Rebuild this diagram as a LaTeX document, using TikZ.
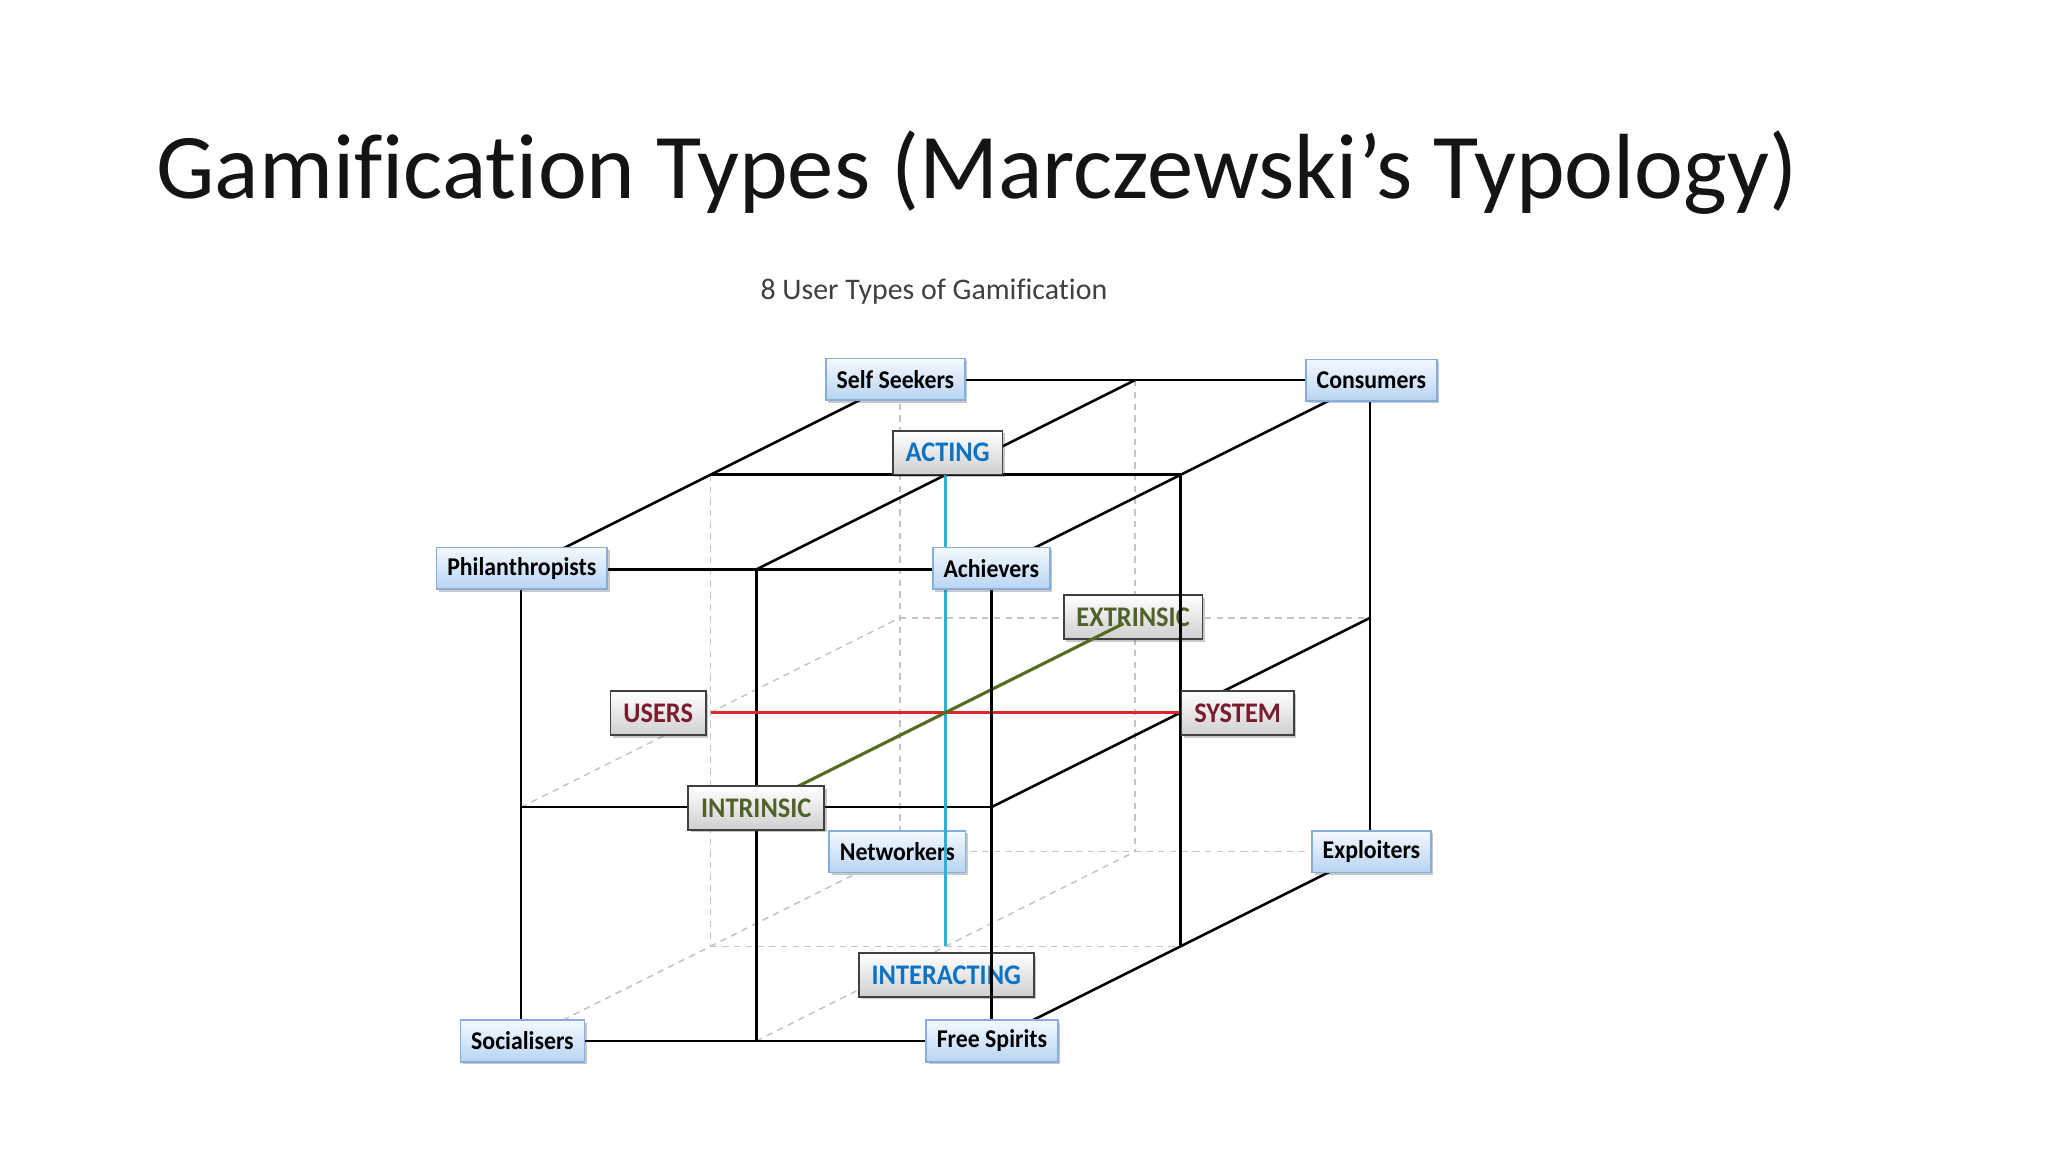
\documentclass[tikz,border=0pt]{standalone}
\usepackage{fontspec}
\setmainfont[Ligatures={NoCommon}]{Carlito}
\newfontfamily\boxfont[FakeStretch=0.93,Ligatures={NoCommon}]{Carlito}
\usetikzlibrary{shadows}
\definecolor{typetop}{HTML}{F4F9FF}
\definecolor{typebot}{HTML}{B8D4F2}
\definecolor{typeborder}{HTML}{86AEDD}
\definecolor{axisbot}{HTML}{CFCFCF}
\definecolor{axisborder}{HTML}{404040}
\definecolor{axblue}{HTML}{0B72C4}
\definecolor{axgreen}{HTML}{4F6228}
\definecolor{axred}{HTML}{7B1B2E}
\definecolor{redline}{HTML}{E0262A}
\definecolor{cyanline}{HTML}{2BB3D3}
\definecolor{greenline}{HTML}{556B1F}
\definecolor{hidgray}{HTML}{C4C4C4}
\definecolor{subgray}{HTML}{404040}
\definecolor{titlecol}{HTML}{141414}
\tikzset{
  boxshadow/.style={drop shadow={shadow xshift=1.2pt, shadow yshift=-1.2pt, opacity=0.3, fill=black!70}},
  typebox/.style={draw=typeborder, line width=0.7pt, top color=typetop, bottom color=typebot,
    minimum height=19.5pt, inner xsep=5pt, inner ysep=2pt, text=black,
    font=\boxfont\bfseries\fontsize{12}{13}\selectfont, boxshadow},
  axisbox/.style={draw=axisborder, line width=0.8pt, top color=white, bottom color=axisbot,
    minimum height=20.5pt, inner xsep=6pt, inner ysep=2pt,
    font=\boxfont\bfseries\fontsize{13.3}{14}\selectfont, boxshadow},
  cubeline/.style={draw=black, line width=1.2pt},
  hiddenline/.style={draw=hidgray, line width=0.7pt, dash pattern=on 3pt off 2.5pt},
}
\begin{document}
\begin{tikzpicture}[x=0.6122pt,y=-0.6122pt]
\useasboundingbox (0,0) rectangle (1568,882);
\fill[white] (0,0) rectangle (1568,882);

\node[anchor=base west, inner sep=0, text=titlecol, font=\fontsize{43.4}{50}\selectfont] (title) at (119.5,151.8)
  {Gamification Types (Marczewski’s Typology)};
\node[anchor=base, inner sep=0, text=subgray, font=\fontsize{14}{16}\selectfont] (subtitle) at (715,229)
  {8 User Types of Gamification};

% lattice of the cube: i = width, j = height (0 top), k = depth
\foreach \i in {0,1,2}{
  \foreach \j/\yy in {0/0,1/182,2/361}{
    \foreach \k in {0,1,2}{
      \coordinate (p\i\j\k) at ({399+180*\i+145*\k},{436+\yy-72.5*\k});
    }
  }
}

% hidden edges
\draw[hiddenline] (p002) -- (p022);
\draw[hiddenline] (p102) -- (p122);
\draw[hiddenline] (p012) -- (p212);
\draw[hiddenline] (p022) -- (p222);
\draw[hiddenline] (p001) -- (p021);
\draw[hiddenline] (p021) -- (p221);
\draw[hiddenline] (p010) -- (p012);
\draw[hiddenline] (p020) -- (p022);
\draw[hiddenline] (p120) -- (p122);

% visible edges
\draw[cubeline] (p000) -- (p200);
\draw[cubeline] (p010) -- (p210);
\draw[cubeline] (p020) -- (p220);
\draw[cubeline] (p000) -- (p020);
\draw[cubeline] (p100) -- (p120);
\draw[cubeline] (p000) -- (p002);
\draw[cubeline] (p100) -- (p102);
\draw[cubeline] (p200) -- (p202);
\draw[cubeline] (p001) -- (p201);
\draw[cubeline] (p002) -- (p202);
\draw[cubeline] (p202) -- (p222);
\draw[cubeline] (p210) -- (p212);
\draw[cubeline] (p220) -- (p222);

% users - system axis
\draw[draw=redline, line width=1.2pt] (p011) -- (p211);

% boxes lying under some lines
\node[typebox] (networkers) at (687,652) {Networkers};
\node[axisbox, text=axgreen] (extrinsic) at (867.5,472.5) {EXTRINSIC};
\node[axisbox, text=axblue, anchor=north] (interacting) at (724.5,729) {INTERACTING};

% lines over those boxes
\draw[draw=cyanline, line width=1.2pt] (p101) -- (p121);
\draw[draw=greenline, line width=1.5pt, shorten >=6pt] (p110) -- (p112);
\draw[cubeline] (p200) -- (p220);
\draw[cubeline] (p201) -- (p221);

% remaining boxes
\node[typebox] (selfseekers) at (685.5,290.5) {Self Seekers};
\node[typebox] (consumers) at (1050,291) {Consumers};
\node[axisbox, text=axblue, anchor=south] (acting) at (725.5,364) {ACTING};
\node[typebox] (philanthropists) at (399.5,435) {Philanthropists};
\node[typebox] (achievers) at (759,435) {Achievers};
\node[axisbox, text=axred, anchor=east] (users) at (541,546) {USERS};
\node[axisbox, text=axred, anchor=west] (system) at (904,546) {SYSTEM};
\node[axisbox, text=axgreen] (intrinsic) at (579,618.5) {INTRINSIC};
\node[typebox] (exploiters) at (1050,652) {Exploiters};
\node[typebox] (socialisers) at (400,797) {Socialisers};
\node[typebox] (freespirits) at (759.5,797) {Free Spirits};
\end{tikzpicture}
\end{document}
